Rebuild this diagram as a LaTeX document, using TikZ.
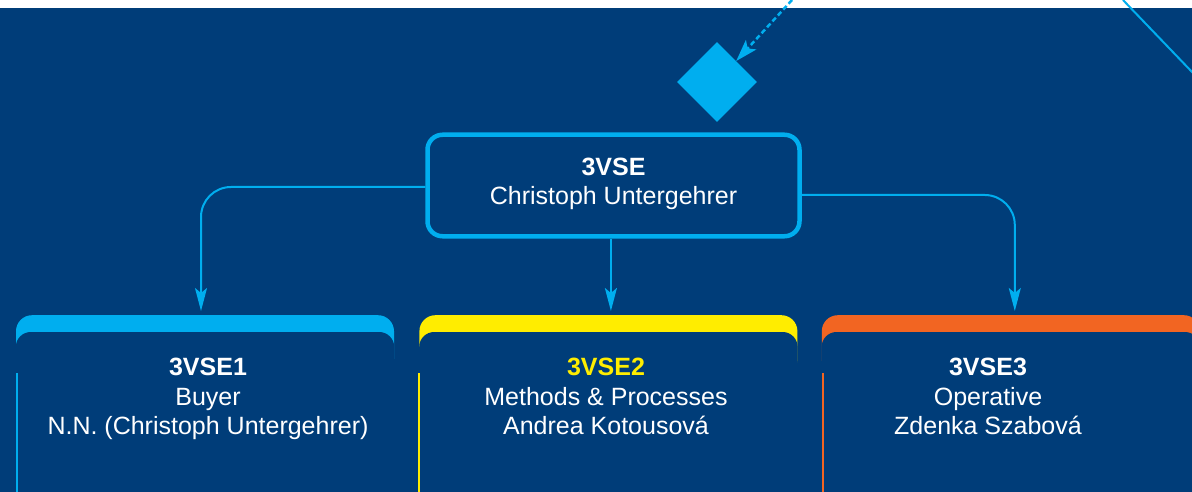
\documentclass[tikz,border=0pt]{standalone}
\usepackage{fontspec}
\setmainfont{Liberation Sans}
\usetikzlibrary{arrows.meta, shapes.geometric, positioning}
\definecolor{navy}{RGB}{0,61,121}
\definecolor{skyline}{RGB}{0,174,239}
\definecolor{signal}{RGB}{255,237,0}
\definecolor{ember}{RGB}{242,101,34}

\begin{document}
\begin{tikzpicture}[x=1pt, y=-1pt]

% Define the node styles
\tikzstyle{head}=[draw=skyline, fill=navy, line width=4.5pt, rounded corners=15pt, minimum width=372pt, minimum height=101.5pt, text=white, align=center, inner sep=0pt, font=\fontsize{25}{29.5}\selectfont, execute at begin node=\strut, execute at end node=\strut]
\tikzstyle{tab}=[anchor=north, rounded corners=16pt, minimum width=378pt, minimum height=60pt, inner sep=0pt]
\tikzstyle{unitbox}=[text=white, align=center, inner sep=0pt, font=\fontsize{25}{29.5}\selectfont, execute at begin node=\strut, execute at end node=\strut]
\tikzstyle{decision}=[diamond, fill=skyline, minimum width=80pt, minimum height=80pt, inner sep=0pt]
\tikzstyle{link}=[skyline, line width=2pt, rounded corners=30pt, shorten >=4pt, -{Stealth[length=23pt, width=12pt, inset=5pt]}]

\useasboundingbox (0,0) rectangle (1192,492);
\clip (0,0) rectangle (1192,492);

% Background
\fill[white] (0,0) rectangle (1192,492);
\fill[navy] (0,8) rectangle (1192,492);

% Define the nodes
\node[decision] (gate) at (717,82) {};
\node[head] (head) at (613.5,185.5) {\bfseries 3VSE\\Christoph Untergehrer};
\node[tab, fill=skyline] (buyer) at (205,315) {};
\node[tab, fill=signal, right=25pt of buyer] (methods) {};
\node[tab, fill=ember, right=24pt of methods] (operative) {};

% Cut the tabs open at the bottom
\foreach \card in {buyer, methods, operative}
  \fill[navy, rounded corners=15pt] ([yshift=-17pt]\card.north west) rectangle ([yshift=-40pt]\card.south east);
\draw[skyline, line width=2pt] ([xshift=1pt, yshift=-58pt]buyer.north west) -- ++(0,130);
\draw[signal, line width=2pt] ([xshift=0pt, yshift=-58pt]methods.north west) -- ++(0,130);
\draw[ember, line width=2pt] ([xshift=1pt, yshift=-58pt]operative.north west) -- ++(0,130);

\node[unitbox] (buyerinfo) at (208,401) {\bfseries 3VSE1\\Buyer\\N.N. (Christoph Untergehrer)};
\node[unitbox] (methodsinfo) at (606,401) {\textcolor{signal}{\bfseries 3VSE2}\\Methods \& Processes\\Andrea Kotousová};
\node[unitbox] (operativeinfo) at (988,401) {\bfseries 3VSE3\\Operative\\Zdenka Szabová};

% Loose ends at the top
\coordinate (feed) at (792,0);
\coordinate (crossA) at (1123,0);
\coordinate (crossB) at (1200,80.3);

% Add the edges
\draw[skyline, line width=2.5pt, dash pattern=on 5pt off 3pt, -{Stealth[length=22pt, width=14pt, inset=5pt]}] (feed) -- (gate);
\draw[skyline, line width=2pt] (crossA) -- (crossB);
\draw[link] ([yshift=-1.5pt]head.west) -| ([xshift=-4pt]buyer.north);
\draw[link] (head.south -| methods.north) ++(2.5,0) -- ([xshift=2.5pt]methods.north);
\draw[link] ([yshift=-9.5pt]head.east) -| ([xshift=4pt]operative.north);

\end{tikzpicture}
\end{document}
